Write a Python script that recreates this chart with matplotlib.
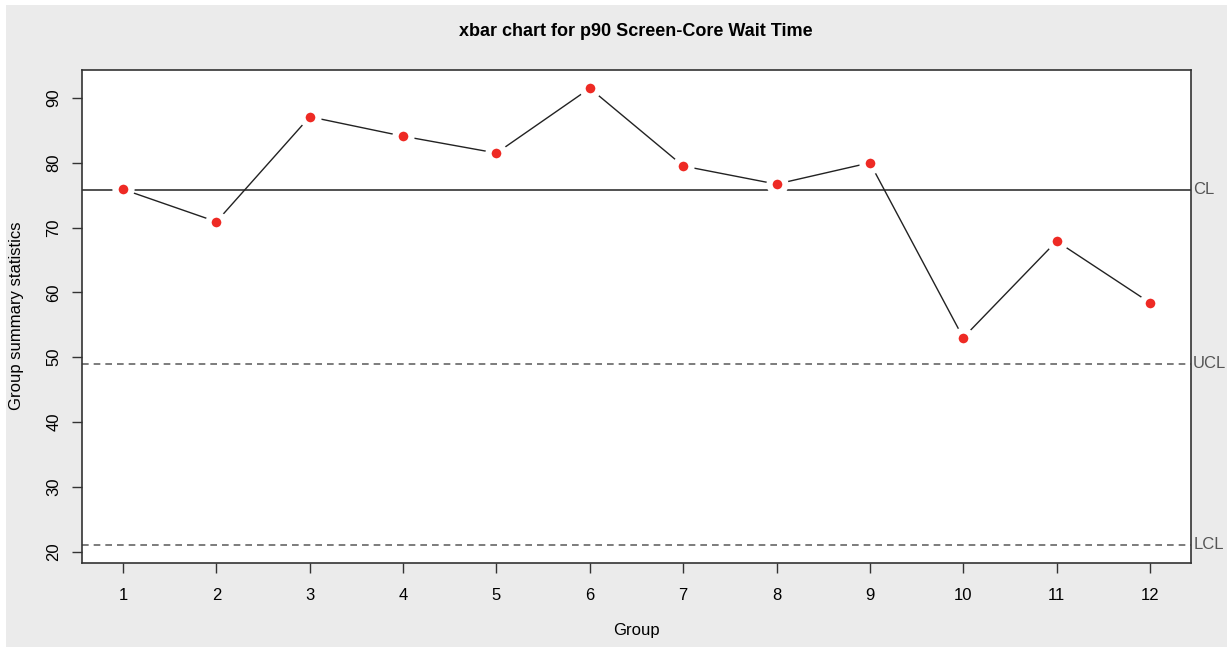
import matplotlib.pyplot as plt
import matplotlib.patches as mpatches
import numpy as np

plt.rcParams['font.family'] = ['Liberation Sans', 'DejaVu Sans']

# data
groups = np.arange(1, 13)
stats = [75.9, 70.9, 87.1, 84.1, 81.5, 91.5, 79.5, 76.7, 80.0, 53.0, 67.9, 58.4]
center = 75.8
ucl = 48.95
lcl = 21.05
limit_names = ['CL', 'UCL', 'LCL']

W, H = 1227, 652
fig = plt.figure(figsize=(W / 100, H / 100), dpi=100, facecolor='white')

# grey panel behind the plot
bg = mpatches.Rectangle((6 / W, 1 - 647 / H), (W - 6) / W, (647 - 5) / H,
                        transform=fig.transFigure, facecolor='#ebebeb',
                        edgecolor='none', zorder=-10)
fig.patches.append(bg)

ax = fig.add_axes([82 / W, 1 - 563 / H, (1191 - 82) / W, (563 - 70) / H])
ax.set_facecolor('white')

# control lines
ax.axhline(center, color='#333333', lw=1.2, zorder=1)
ax.axhline(ucl, color='#666666', lw=1.2, ls=(0, (4, 3)), zorder=1)
ax.axhline(lcl, color='#666666', lw=1.2, ls=(0, (4, 3)), zorder=1)

# statistics, R type="b" look
ax.plot(groups, stats, color='#222222', lw=1.0, zorder=2)
ax.plot(groups, stats, ls='none', marker='o', markersize=11.5,
        markerfacecolor='#ee2a24', markeredgecolor='white',
        markeredgewidth=4.5, zorder=3)

lo = min(min(stats), lcl)
hi = max(max(stats), center)
pad = (hi - lo) * 0.04
ax.set_ylim(lo - pad, hi + pad)
ax.set_xlim(1 - 11 * 0.04, 12 + 11 * 0.04)

for name, val in zip(limit_names, [center, ucl, lcl]):
    ax.text(1.002, val, name, transform=ax.get_yaxis_transform(),
            ha='left', va='center', fontsize=12, color='#555555')

ax.set_xticks(groups)
ax.set_yticks(np.arange(20, 100, 10))
ax.tick_params(direction='out', length=7, width=1, color='#333333',
               labelsize=12, pad=8)
ax.tick_params(axis='x', pad=11)
for lbl in ax.get_yticklabels():
    lbl.set_rotation(90)
    lbl.set_va('center')
for s in ax.spines.values():
    s.set_color('#333333')
    s.set_linewidth(1.2)

fig.text(636 / W, 1 - 32 / H, 'xbar chart for p90 Screen-Core Wait Time',
         ha='center', va='center', fontsize=13, fontweight='bold')
fig.text(636 / W, 1 - 630 / H, 'Group', ha='center', va='center', fontsize=12)
fig.text(17 / W, 1 - 316 / H, 'Group summary statistics', ha='center',
         va='center', rotation=90, fontsize=12)

fig.savefig('out.png', dpi=100, facecolor='white')
